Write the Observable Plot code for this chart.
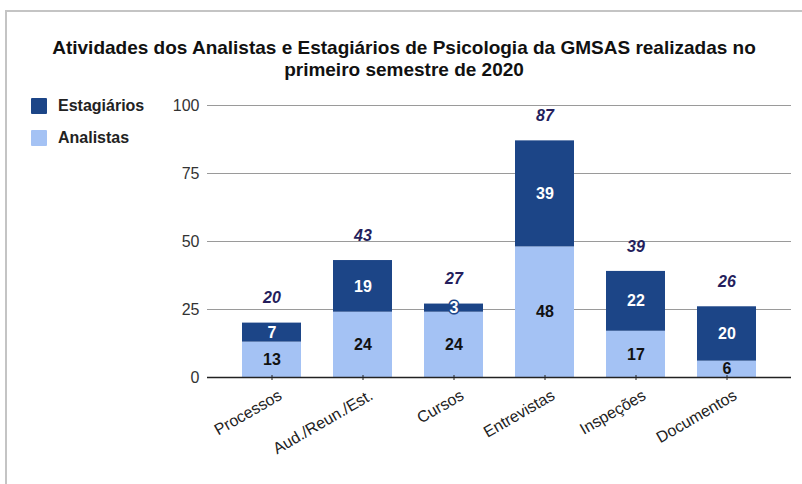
<!DOCTYPE html>
<html>
<head>
<meta charset="utf-8">
<script src="https://cdn.jsdelivr.net/npm/d3@7"></script>
<script src="https://cdn.jsdelivr.net/npm/@observablehq/plot@0.6"></script>
<style>
  html, body { margin: 0; padding: 0; background: #fff; }
  #wrap { position: relative; width: 802px; height: 484px; overflow: hidden; font-family: "Liberation Sans", Arial, sans-serif; }
  #frame { position: absolute; left: 5px; top: 10px; width: 802px; height: 480px; border-top: 2px solid #c4c4c4; border-left: 2px solid #c4c4c4; }
  .title { position: absolute; left: 0; width: 808px; text-align: center; font-weight: bold; font-size: 19px; color: #111; line-height: 22px; }
  .leg { position: absolute; left: 31px; height: 16px; }
  .leg .sw { position: absolute; left: 0; top: 0; width: 16px; height: 16px; border-radius: 1px; }
  .leg .tx { position: absolute; left: 27px; top: -2px; font-size: 16px; font-weight: bold; color: #222; white-space: nowrap; line-height: 20px; }
  #chart { position: absolute; left: 0; top: 0; }
</style>
</head>
<body>
<div id="wrap">
  <div id="frame"></div>
  <div id="chart"></div>
  <div class="title" style="top:37px">Atividades dos Analistas e Estagiários de Psicologia da GMSAS realizadas no</div>
  <div class="title" style="top:59px">primeiro semestre de 2020</div>
  <div class="leg" style="top:98px"><div class="sw" style="background:#1c4587"></div><div class="tx">Estagiários</div></div>
  <div class="leg" style="top:130px"><div class="sw" style="background:#a4c2f4"></div><div class="tx">Analistas</div></div>
</div>
<script>
const categories = ["Processos", "Aud./Reun./Est.", "Cursos", "Entrevistas", "Inspeções", "Documentos"];
const analistas = [13, 24, 24, 48, 17, 6];
const estagiarios = [7, 19, 3, 39, 22, 20];
const totals = [20, 43, 27, 87, 39, 26];
const seriesNames = ["Analistas", "Estagiários"];
const yTicks = [0, 25, 50, 75, 100];

const rows = [];
categories.forEach((c, i) => {
  rows.push({cat: c, series: "Analistas", value: analistas[i]});
  rows.push({cat: c, series: "Estagiários", value: estagiarios[i]});
});
const totalRows = categories.map((c, i) => ({cat: c, total: totals[i]}));

const colors = {"Analistas": "#a4c2f4", "Estagiários": "#1c4587"};
const stackOpts = {x: "cat", y: "value", z: "series", order: seriesNames};

const chart = Plot.plot({
  width: 802,
  height: 484,
  marginLeft: 207,
  marginRight: 11,
  marginTop: 105,
  marginBottom: 107,
  style: {fontFamily: "Liberation Sans, Arial, sans-serif", fontSize: "16px", background: "transparent"},
  x: {domain: categories, range: [224, 775], paddingInner: 0.35, paddingOuter: 0.175, label: null},
  y: {domain: [0, 100], label: null},
  marks: [
    Plot.ruleY(yTicks.filter(d => d > 0), {stroke: "#9a9a9a", strokeWidth: 1}),
    Plot.barY(rows, Plot.stackY({...stackOpts, fill: d => colors[d.series]})),
    Plot.ruleY([0], {stroke: "#222", strokeWidth: 1.5}),
    Plot.axisY({ticks: yTicks, tickSize: 0, tickPadding: 8, fontSize: 16, fill: "#333", label: null}),
    Plot.axisX({tickSize: 5, text: null, label: null, dy: -2, stroke: "#222"}),
    Plot.text(categories, {x: d => d, frameAnchor: "bottom", rotate: -30, textAnchor: "end", dx: 11, dy: 21, fontSize: 16, fill: "#222"}),
    Plot.text(rows, Plot.stackY({...stackOpts, text: d => String(d.value),
      fill: d => d.series === "Estagiários" ? "#fff" : "#111",
      stroke: d => d.series === "Estagiários" ? "#1c4587" : "none",
      strokeWidth: 3, paintOrder: "stroke", fontWeight: "bold", fontSize: 16})),
    Plot.text(totalRows, {x: "cat", y: "total", text: d => String(d.total), dy: -25, fontWeight: "bold", fontStyle: "italic", fontSize: 16, fill: "#251e5c"})
  ]
});
document.getElementById("chart").appendChild(chart);
</script>
</body>
</html>
